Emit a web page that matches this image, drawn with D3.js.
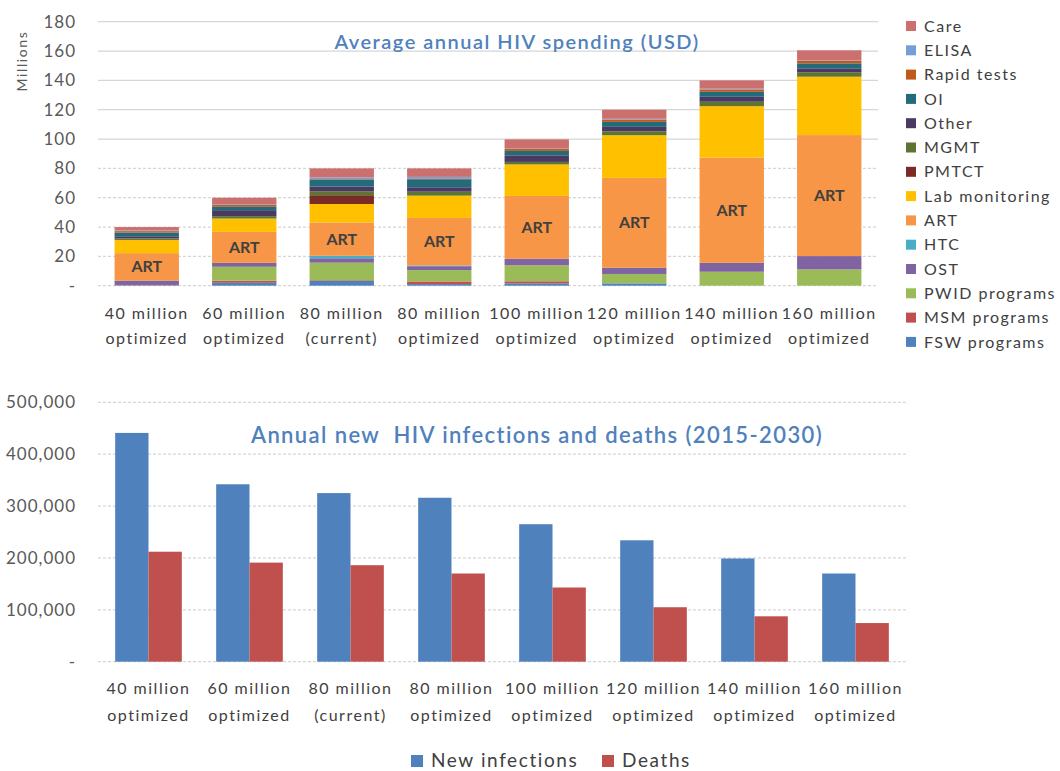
<!DOCTYPE html>
<html><head><meta charset="utf-8">
<script src="https://cdn.jsdelivr.net/npm/d3@7"></script>
<style>
body{margin:0;background:#fff;}
svg{font-family:Lato,"Open Sans",sans-serif;}
</style></head>
<body>
<svg id="c" width="1060" height="771"></svg>
<script>
const categories = [
  ["40 million","optimized"],["60 million","optimized"],["80 million","(current)"],["80 million","optimized"],
  ["100 million","optimized"],["120 million","optimized"],["140 million","optimized"],["160 million","optimized"]
];
// spending components (millions USD), bottom to top
const seriesNames = ["FSW programs","MSM programs","PWID programs","OST","HTC","ART","Lab monitoring","PMTCT","MGMT","Other","OI","Rapid tests","ELISA","Care"];
const seriesColors = ["#4f81bd","#c0504d","#9bbb59","#8064a2","#4bacc6","#f79646","#ffc000","#7a2a27","#5e7431","#4a3961","#236a7b","#bd5a1c","#759ed6","#cc6f6f"];
const FSW   = [0.3, 2.0, 3.2, 1.1, 1.6, 1.6, 0.0, 0.0];
const MSM   = [0.2, 1.4, 0.5, 1.8, 1.4, 0.0, 0.0, 0.0];
const PWID  = [0.0, 9.5,12.0, 7.7,10.9, 6.4, 9.5,11.1];
const OST   = [3.0, 2.7, 3.0, 2.7, 4.5, 4.3, 6.1, 9.1];
const HTC   = [0.0, 0.0, 1.7, 0.5, 0.0, 0.0, 0.0, 0.0];
const ART   = [18.7,21.1,22.7,32.4,42.8,61.2,71.8,82.5];
const Lab   = [9.0, 9.1,12.6,15.2,21.5,29.1,35.0,39.8];
const PMTCT = [0.0, 0.0, 6.0, 0.0, 0.0, 0.0, 0.0, 0.0];
const MGMT  = [1.0, 1.6, 2.7, 2.7, 1.7, 2.7, 3.0, 3.0];
const Other = [1.5, 4.1, 3.2, 3.0, 4.5, 3.0, 3.4, 2.7];
const OI    = [2.5, 2.3, 4.5, 5.5, 3.0, 3.4, 3.4, 3.4];
const Rapid = [1.0, 1.4, 0.5, 0.5, 1.6, 1.6, 1.6, 1.6];
const ELISA = [0.5, 0.5, 1.3, 1.1, 0.3, 0.5, 0.5, 0.3];
const Care  = [2.3, 4.3, 6.1, 5.8, 6.0, 6.2, 5.7, 7.0];
const spendTicks = [0,20,40,60,80,100,120,140,160,180];

const newInfections = [441000,342000,325000,316000,265000,234000,199000,170000];
const deaths        = [212000,191000,186000,170000,143000,105000,87500,74500];
const outcomeTicks = [0,100000,200000,300000,400000,500000];
const outcomeNames = ["New infections","Deaths"];
const outcomeColors = ["#4f81bd","#c0504d"];

const svg = d3.select("#c");
const seriesVals = [FSW,MSM,PWID,OST,HTC,ART,Lab,PMTCT,MGMT,Other,OI,Rapid,ELISA,Care];
const catKeys = categories.map((c,i)=>i);
const rows = catKeys.map(i=>{const r={cat:i}; seriesNames.forEach((n,k)=>r[n]=seriesVals[k][i]); return r;});
const textCol = "#404040", tickCol="#595959", titleCol="#4f81bd", gridCol="#d6d6d6";

// ---------- top chart ----------
const x1 = d3.scaleBand().domain(catKeys).range([98,878]).paddingInner(0.34).paddingOuter(0.17);
const y1 = d3.scaleLinear().domain([0,180]).range([285.7,21.7]);
const g1 = svg.append("g");
g1.selectAll("line.grid").data(spendTicks).join("line")
  .attr("x1",98).attr("x2",878).attr("y1",d=>y1(d)).attr("y2",d=>y1(d))
  .attr("stroke",gridCol).attr("stroke-width",1.3)
  .attr("stroke-dasharray",d=>d<100?"3,2":null);
g1.selectAll("text.tick").data(spendTicks).join("text")
  .attr("x",76).attr("y",d=>y1(d)).attr("dy","0.35em").attr("text-anchor","end")
  .attr("font-size",17).attr("letter-spacing",1).attr("fill",tickCol).text(d=>d===0?"-":d);
svg.append("text").attr("transform","translate(27,61) rotate(-90)").attr("text-anchor","middle")
  .attr("font-size",14).attr("letter-spacing",1.6).attr("fill",tickCol).text("Millions");
const stack = d3.stack().keys(seriesNames)(rows);
g1.selectAll("g.s").data(stack).join("g").attr("fill",(d,i)=>seriesColors[i])
  .selectAll("rect").data(d=>d).join("rect")
  .attr("x",d=>x1(d.data.cat)).attr("width",x1.bandwidth())
  .attr("y",d=>y1(d[1])).attr("height",d=>y1(d[0])-y1(d[1]));
const artLayer = stack[seriesNames.indexOf("ART")];
g1.selectAll("text.art").data(artLayer).join("text")
  .attr("x",d=>x1(d.data.cat)+x1.bandwidth()/2).attr("y",d=>(y1(d[0])+y1(d[1]))/2).attr("dy","0.35em")
  .attr("text-anchor","middle").attr("font-size",16).attr("font-weight",700).attr("fill",textCol).text("ART");
svg.append("text").attr("x",517).attr("y",42).attr("dy","0.35em").attr("text-anchor","middle")
  .attr("font-size",20).attr("letter-spacing",1.5).attr("font-weight",600).attr("fill",titleCol).text("Average annual HIV spending (USD)");
categories.forEach((c,i)=>{
  c.forEach((t,j)=>svg.append("text").attr("x",x1(i)+x1.bandwidth()/2).attr("y",313+j*25).attr("dy","0.35em")
    .attr("text-anchor","middle").attr("font-size",16).attr("letter-spacing",1.5).attr("fill",textCol).text(t));
});
// legend (top to bottom = reverse stacking order)
const legOrder = seriesNames.map((n,i)=>i).reverse();
const lg = svg.append("g");
legOrder.forEach((k,j)=>{
  const yy = 26 + j*24.3;
  lg.append("rect").attr("x",906).attr("y",yy-5).attr("width",10).attr("height",10).attr("fill",seriesColors[k]);
  lg.append("text").attr("x",924).attr("y",yy).attr("dy","0.35em").attr("font-size",16).attr("letter-spacing",1.5).attr("fill",textCol).text(seriesNames[k]);
});

// ---------- bottom chart ----------
const x2 = d3.scaleBand().domain(catKeys).range([98,906]).paddingInner(0.34).paddingOuter(0.17);
const xs = d3.scaleBand().domain([0,1]).range([0,x2.bandwidth()]);
const y2 = d3.scaleLinear().domain([0,500000]).range([661.7,402.3]);
const g2 = svg.append("g");
g2.selectAll("line").data(outcomeTicks).join("line")
  .attr("x1",98).attr("x2",906).attr("y1",d=>y2(d)).attr("y2",d=>y2(d))
  .attr("stroke",gridCol).attr("stroke-width",1.3).attr("stroke-dasharray","3,2");
g2.selectAll("text.tick").data(outcomeTicks).join("text")
  .attr("x",76).attr("y",d=>y2(d)).attr("dy","0.35em").attr("text-anchor","end")
  .attr("font-size",17).attr("letter-spacing",1).attr("fill",tickCol).text(d=>d===0?"-":d3.format(",")(d));
const outVals=[newInfections,deaths];
outVals.forEach((arr,s)=>{
  g2.selectAll("rect.s"+s).data(arr).join("rect").attr("class","s"+s)
    .attr("x",(d,i)=>x2(i)+xs(s)).attr("width",xs.bandwidth())
    .attr("y",d=>y2(d)).attr("height",d=>y2(0)-y2(d)).attr("fill",outcomeColors[s]);
});
svg.append("text").attr("x",537).attr("y",435).attr("dy","0.35em").attr("text-anchor","middle")
  .attr("font-size",22).attr("letter-spacing",1.4).attr("font-weight",600).attr("fill",titleCol)
  .style("white-space","pre").text("Annual new  HIV infections and deaths (2015-2030)");
categories.forEach((c,i)=>{
  c.forEach((t,j)=>svg.append("text").attr("x",x2(i)+x2.bandwidth()/2).attr("y",688+j*27).attr("dy","0.35em")
    .attr("text-anchor","middle").attr("font-size",16).attr("letter-spacing",1.5).attr("fill",textCol).text(t));
});
const lx=[411,602];
outcomeNames.forEach((n,s)=>{
  svg.append("rect").attr("x",lx[s]).attr("y",755).attr("width",12).attr("height",12).attr("fill",outcomeColors[s]);
  svg.append("text").attr("x",lx[s]+20).attr("y",760).attr("dy","0.35em").attr("font-size",19).attr("letter-spacing",1.6).attr("fill",textCol).text(n);
});
</script>
</body></html>
